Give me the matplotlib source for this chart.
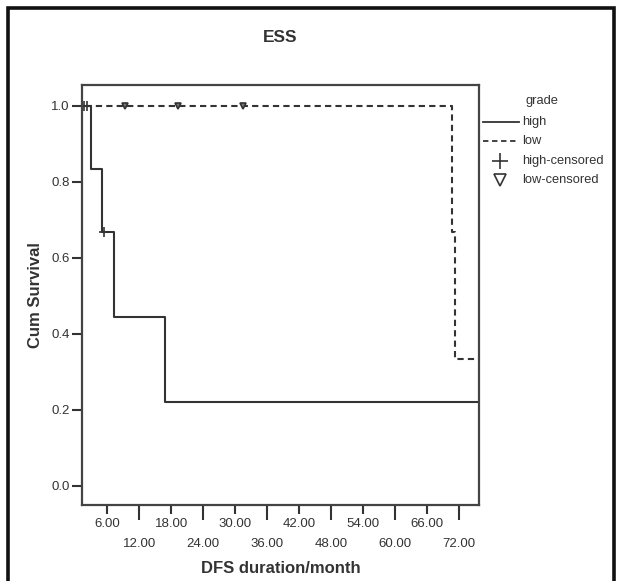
import matplotlib
matplotlib.use("Agg")
import matplotlib.pyplot as plt
import numpy as np

plt.rcParams['font.family'] = ['Liberation Sans', 'DejaVu Sans']

# ---- data ----
x_range = [1.25, 75.7]
x_major_ticks = [12, 24, 36, 48, 60, 72]
x_minor_ticks = [6, 18, 30, 42, 54, 66]
y_ticks = [0.0, 0.2, 0.4, 0.6, 0.8, 1.0]

high_event_times = [3.0, 5.0, 7.3, 16.8]
high_event_surv = [0.833, 0.667, 0.444, 0.222]
high_cens_times = [1.6, 2.1, 5.4]
high_cens_surv = [1.0, 1.0, 0.667]

low_event_times = [70.7, 71.2]
low_event_surv = [0.667, 0.333]
low_cens_times = [9.3, 19.3, 31.4]
low_cens_surv = [1.0, 1.0, 1.0]

INK = '#333333'
W, H = 622, 581
fig = plt.figure(figsize=(W / 100, H / 100), dpi=100)

ax = fig.add_axes([82 / W, 1 - 505 / H, (479 - 82) / W, (505 - 85) / H])

def steps(times, surv, x0, x1):
    xs = [x0] + list(times) + [x1]
    ys = [1.0] + list(surv) + [surv[-1]]
    return xs, ys

hx, hy = steps(high_event_times, high_event_surv, 0, x_range[1])
lx, ly = steps(low_event_times, low_event_surv, 0, x_range[1])

ax.step(hx, hy, where='post', color=INK, lw=1.5, clip_on=True)
ax.step(lx, ly, where='post', color=INK, lw=1.5, ls=(0, (3, 2)), clip_on=True)
ax.plot(high_cens_times, high_cens_surv, ls='none', marker='+', color=INK,
        ms=7, mew=1.2)
ax.plot(low_cens_times, low_cens_surv, ls='none', marker='v', mfc='#777777',
        mec=INK, ms=4.5, mew=1.2)

ax.set_xlim(*x_range)
ax.set_ylim(-0.05, 1.055)

ax.set_yticks(y_ticks)
ax.set_yticklabels([f'{v:.1f}' for v in y_ticks])
ax.set_xticks(x_major_ticks)
ax.set_xticklabels([f'{v:.2f}' for v in x_major_ticks])
ax.set_xticks(x_minor_ticks, minor=True)
ax.set_xticklabels([f'{v:.2f}' for v in x_minor_ticks], minor=True)

ax.tick_params(axis='y', which='major', length=7, width=1.5, color=INK,
               labelsize=9.5, labelcolor=INK, pad=2, direction='out')
ax.tick_params(axis='x', which='major', length=11, width=1.5, color=INK,
               labelsize=9.5, labelcolor=INK, pad=13)
ax.tick_params(axis='x', which='minor', length=6.5, width=1.5, color=INK,
               labelsize=9.5, labelcolor=INK, pad=3)

for s in ax.spines.values():
    s.set_color('#444444')
    s.set_linewidth(1.6)

ax.set_xlabel('DFS duration/month', fontsize=12, fontweight='bold',
              color=INK, labelpad=8)
ax.set_ylabel('Cum Survival', fontsize=12, fontweight='bold', color=INK,
              labelpad=6)
fig.text(280 / W, 1 - 38 / H, 'ESS', ha='center', va='center', fontsize=12.5,
         fontweight='bold', color=INK)

# overlay in pixel coordinates for frame
ov = fig.add_axes([0, 0, 1, 1], zorder=-1)
ov.set_xlim(0, W)
ov.set_ylim(H, 0)
ov.axis('off')
ov.plot([8, 8, 614, 614], [600, 8, 8, 600], color='#111111', lw=2.6,
        solid_joinstyle='miter', clip_on=False)

# legend (on top)
lg = fig.add_axes([0, 0, 1, 1], zorder=5)
lg.set_xlim(0, W)
lg.set_ylim(H, 0)
lg.axis('off')
lg.patch.set_alpha(0)
fs = 9.3
lg.text(542, 101, 'grade', ha='center', va='center', fontsize=fs, color=INK)
lg.plot([483, 519], [122, 122], color=INK, lw=1.3)
lg.text(522, 122, 'high', va='center', fontsize=fs, color=INK)
lg.plot([483, 519], [141, 141], color=INK, lw=1.3, ls=(0, (3, 2)))
lg.text(522, 141, 'low', va='center', fontsize=fs, color=INK)
lg.plot([500], [161], marker='+', color=INK, ms=11, mew=1.2)
lg.text(522, 161, 'high-censored', va='center', fontsize=fs, color=INK)
lg.plot([500], [180], marker='v', mfc='none', mec=INK, ms=8, mew=1.2,
        ls='none')
lg.text(522, 180, 'low-censored', va='center', fontsize=fs, color=INK)

fig.savefig('out.png', dpi=100, facecolor='white')
